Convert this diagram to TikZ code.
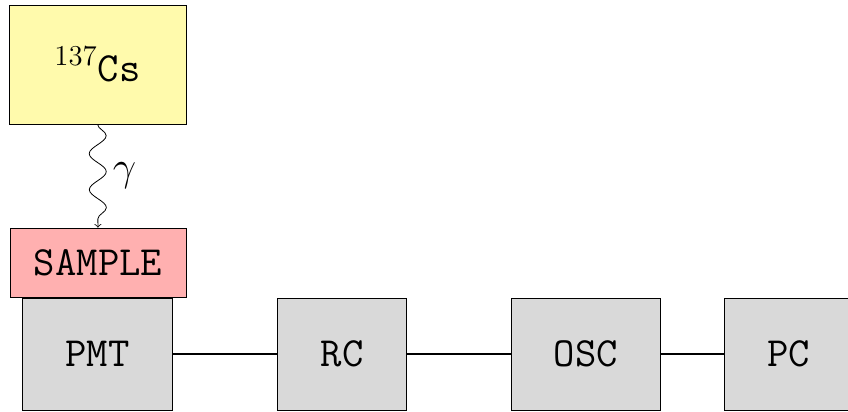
\documentclass[tikz,border=0pt]{standalone}
\usetikzlibrary{positioning,decorations.pathmorphing}
\definecolor{csyellow}{RGB}{255,250,172}
\definecolor{samplered}{RGB}{255,176,176}
\tikzset{
 unit/.style={draw, fill=gray!30, font=\huge\ttfamily, inner xsep=21.4pt, minimum height=56pt},
 photon/.style={->, decorate, decoration={snake, amplitude=4.25pt, segment length=18pt}}
}
\begin{document}
\begin{tikzpicture}[x=0.5pt,y=0.5pt]
 \useasboundingbox (0,0) rectangle (848,412);

 \node [draw, fill=csyellow, font=\huge, minimum width=88.5pt, minimum height=59.5pt] (cs) at (97.5,347.5) {$^{137}$\texttt{Cs}};
 \node [draw, fill=samplered, font=\huge\ttfamily, minimum width=88pt, minimum height=34.5pt] (sample) at (98,149.5) {SAMPLE};

 \node [unit] (pmt) at (97.5,58) {PMT};
 \node [unit] (rc) at (342,58) {RC};
 \node [unit] (osc) at (586,58) {OSC};
 \node [unit] (pc) at (788.5,58) {PC};

 \draw [photon] (cs) -- (sample) node [midway, right=4pt, font=\huge] (gamma) {$\gamma$};
 \draw [thick] (pmt) -- (rc);
 \draw [thick] (rc) -- (osc);
 \draw [thick] (osc) -- (pc);
\end{tikzpicture}
\end{document}
